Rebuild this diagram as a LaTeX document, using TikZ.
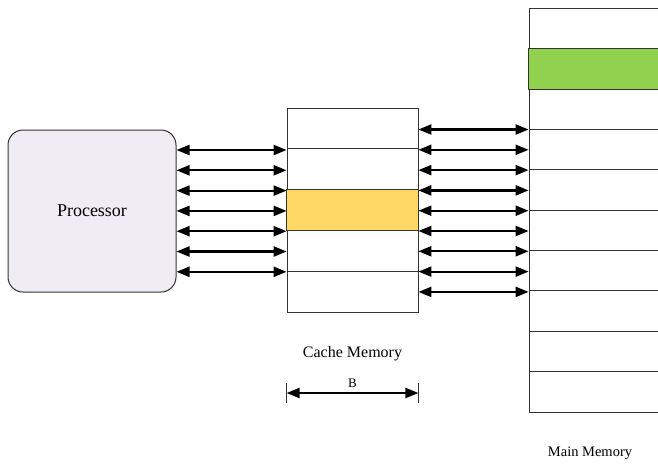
\documentclass[tikz,border=0pt]{standalone}
\usepackage{fontspec}
\setmainfont{Liberation Serif}
\usepackage{tikz}
\usepackage{xcolor}
\usetikzlibrary{arrows.meta, positioning}
\definecolor{ProcFill}{HTML}{EFEDF3}
\definecolor{LineYellow}{HTML}{FFD966}
\definecolor{LineGreen}{HTML}{92D050}

\begin{document}
\begin{tikzpicture}[x=1pt, y=-1pt,
                proc/.style={draw=black!80, line width=1pt, fill=ProcFill, rounded corners=15pt, minimum width=168pt, minimum height=162pt, font=\fontsize{18}{20}\selectfont},
                cacheline/.style={draw=black!80, line width=0.8pt, minimum width=131pt, minimum height=40.8pt, inner sep=0pt},
                memline/.style={draw=black!80, line width=0.8pt, minimum width=141pt, minimum height=40.4pt, inner sep=0pt},
                bus/.style={{Triangle[length=13pt, width=10pt]}-{Triangle[length=13pt, width=10pt]}, line width=2.2pt},
                label/.style={font=\fontsize{16}{18}\selectfont}
            ]

            \useasboundingbox (0,0) rectangle (658,464);

            \node[proc] (proc) at (92,211) {Processor};

            % cache memory, five lines
            \foreach \i in {1,...,5}
                \node[cacheline] (c\i) at (352.5, {108+40.8*(\i-0.5)}) {};
            \fill[LineYellow] (c3.south west) rectangle (c3.north east);
            \draw[black!80, line width=0.8pt] (c3.south west) rectangle (c3.north east);

            % main memory, ten lines
            \foreach \i in {1,...,10}
                \node[memline] (m\i) at (599.5, {8+40.4*(\i-0.5)}) {};
            \fill[LineGreen] (m2.south west) rectangle (m2.north east);
            \draw[black!80, line width=0.8pt] (m2.south west) rectangle (m2.north east);

            \foreach \k in {0,...,6}
                \draw[bus] (proc.east |- 0,{150+20.3*\k}) -- (c1.west |- 0,{150+20.3*\k});
            \foreach \k in {0,...,8}
                \draw[bus] (c1.east |- 0,{129.5+20.3*\k}) -- (m1.west |- 0,{129.5+20.3*\k});

            \node[label] (cachelbl) at (352.5,354) {Cache Memory};
            \node[label, font=\fontsize{14.5}{16}\selectfont] (mainlbl) at (590,453) {Main Memory};

            % block size
            \coordinate (bl) at (c5.west |- 0,393);
            \coordinate (br) at (c5.east |- 0,393);
            \draw[black!80, line width=0.8pt] ([yshift=-10pt]bl) -- ([yshift=10pt]bl);
            \draw[black!80, line width=0.8pt] ([yshift=-10pt]br) -- ([yshift=10pt]br);
            \draw[bus] (bl) -- node[above=1pt, font=\fontsize{13}{15}\selectfont] (blocksize) {B} (br);

        \end{tikzpicture}
\end{document}
